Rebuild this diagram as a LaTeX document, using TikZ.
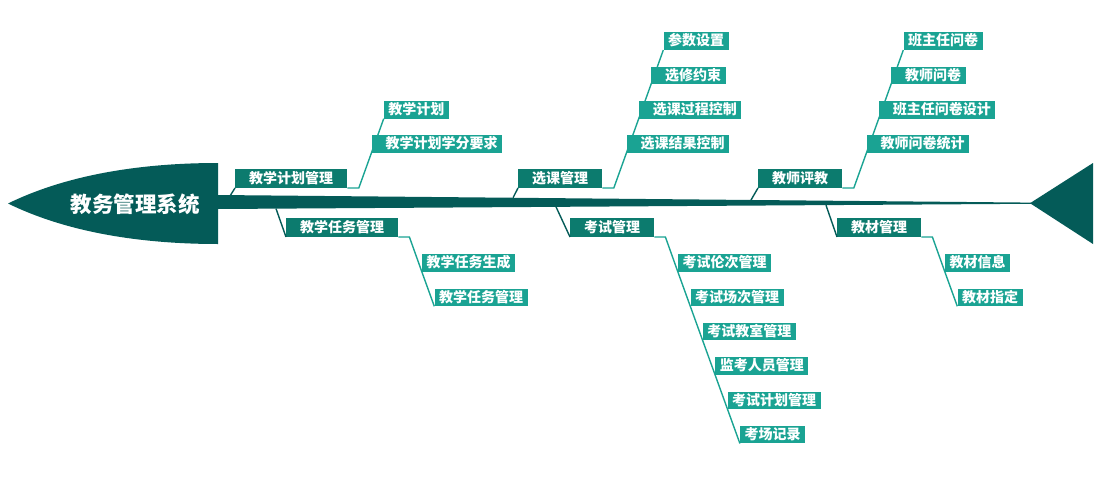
\documentclass[tikz,border=0pt]{standalone}
\usepackage{fontspec}
\newfontfamily\cjk{Noto Sans CJK SC}
\usepackage{tikz}
\usetikzlibrary{positioning}
\definecolor{bone}{HTML}{045B58}
\definecolor{ribc}{HTML}{0C7B6E}
\definecolor{leafc}{HTML}{1AA393}
\newcommand{\ribfont}{\cjk\bfseries\fontsize{14pt}{14pt}\selectfont}
\newcommand{\headfont}{\cjk\bfseries\fontsize{21.5pt}{22pt}\selectfont}

\begin{document}
\begin{tikzpicture}[x=1pt,y=-1pt,
  rib node/.style={rectangle, fill=ribc, text=white, font=\ribfont,
  inner xsep=14pt, inner ysep=0pt, text height=11.5pt, text depth=2pt, minimum height=19pt},
  leaf node/.style={rectangle, fill=leafc, text=white, font=\ribfont,
  inner xsep=4.5pt, inner ysep=0pt, text height=11.5pt, text depth=2pt, minimum height=17.5pt},
  pad/.style={execute at begin node={\hspace*{9.5pt}}},
  bone line/.style={draw=bone, line width=1.4pt},
  twig/.style={draw=leafc, line width=1.4pt}]
  \useasboundingbox (0,0) rectangle (1100,479);

  % head, spine and tail
  \fill[bone] (8,203.5) .. controls (60,178) and (130,163) .. (218,163)
    -- (218,244) .. controls (130,244) and (60,229) .. (8,203.5) -- cycle;
  \fill[bone] (218,195) -- (1031,202.6) -- (1031,203.8) -- (218,209) -- cycle;
  \fill[bone] (1030,203.2) -- (1093,163) -- (1093,244) -- cycle;
  \node[text=white, font=\headfont] (sys) at (135,204) {教务管理系统};

  \coordinate (s1) at (230,196);
  \coordinate (s2) at (276,208.6);
  \coordinate (s3) at (513,197.8);
  \coordinate (s4) at (556,206.8);
  \coordinate (s5) at (751,200);
  \coordinate (s6) at (826,205.2);

  % upper ribs
  \node[rib node, anchor=south west] (plan) at (235,188) {教学计划管理};
  \node[leaf node, pad, above right=35pt and 24pt of plan.south east] (plan2) {教学计划学分要求};
  \node[leaf node, above right=34.3pt and 12.3pt of plan2.south west] (plan1) {教学计划};

  \node[rib node, anchor=south west] (sel) at (518,188) {选课管理};
  \node[leaf node, pad, above right=35pt and 24pt of sel.south east] (sel4) {选课结果控制};
  \node[leaf node, pad, above right=34.3pt and 12.3pt of sel4.south west] (sel3) {选课过程控制};
  \node[leaf node, pad, above right=34.3pt and 12.3pt of sel3.south west] (sel2) {选修约束};
  \node[leaf node, above right=34.3pt and 12.3pt of sel2.south west] (sel1) {参数设置};

  \node[rib node, anchor=south west] (eval) at (758,188) {教师评教};
  \node[leaf node, pad, above right=35pt and 24pt of eval.south east] (eval4) {教师问卷统计};
  \node[leaf node, pad, above right=34.3pt and 12.3pt of eval4.south west] (eval3) {班主任问卷设计};
  \node[leaf node, pad, above right=34.3pt and 12.3pt of eval3.south west] (eval2) {教师问卷};
  \node[leaf node, above right=34.3pt and 12.3pt of eval2.south west] (eval1) {班主任问卷};

  % lower ribs
  \node[rib node, anchor=south west] (task) at (286,237) {教学任务管理};
  \node[leaf node, below right=35pt and 23.5pt of task.south east, anchor=south west] (task1) {教学任务生成};
  \node[leaf node, below right=34.3pt and 12.4pt of task1.south west, anchor=south west] (task2) {教学任务管理};

  \node[rib node, anchor=south west] (exam) at (570,237) {考试管理};
  \node[leaf node, below right=35pt and 23.5pt of exam.south east, anchor=south west] (exam1) {考试伦次管理};
  \node[leaf node, below right=34.3pt and 12.4pt of exam1.south west, anchor=south west] (exam2) {考试场次管理};
  \node[leaf node, below right=34.3pt and 12.4pt of exam2.south west, anchor=south west] (exam3) {考试教室管理};
  \node[leaf node, below right=34.3pt and 12.4pt of exam3.south west, anchor=south west] (exam4) {监考人员管理};
  \node[leaf node, below right=34.3pt and 12.4pt of exam4.south west, anchor=south west] (exam5) {考试计划管理};
  \node[leaf node, below right=34.3pt and 12.4pt of exam5.south west, anchor=south west] (exam6) {考场记录};

  \node[rib node, anchor=south west] (book) at (837,237) {教材管理};
  \node[leaf node, below right=35pt and 23.5pt of book.south east, anchor=south west] (book1) {教材信息};
  \node[leaf node, below right=34.3pt and 12.4pt of book1.south west, anchor=south west] (book2) {教材指定};

  \path[bone line]
    (s1) edge (plan.south west)
    (s2) edge (task.south west)
    (s3) edge (sel.south west)
    (s4) edge (exam.south west)
    (s5) edge (eval.south west)
    (s6) edge (book.south west);

  \draw[twig] (plan.south east) -- ++(11.4pt,0) -- (plan2.south west) -- (plan1.south west);
  \draw[twig] (sel.south east) -- ++(11.4pt,0) -- (sel4.south west) -- (sel3.south west)
    -- (sel2.south west) -- (sel1.south west);
  \draw[twig] (eval.south east) -- ++(11.4pt,0) -- (eval4.south west) -- (eval3.south west)
    -- (eval2.south west) -- (eval1.south west);
  \draw[twig] (task.south east) -- ++(11pt,0) -- (task1.south west) -- (task2.south west);
  \draw[twig] (exam.south east) -- ++(11pt,0) -- (exam1.south west) -- (exam2.south west)
    -- (exam3.south west) -- (exam4.south west) -- (exam5.south west) -- (exam6.south west);
  \draw[twig] (book.south east) -- ++(11pt,0) -- (book1.south west) -- (book2.south west);
\end{tikzpicture}
\end{document}
